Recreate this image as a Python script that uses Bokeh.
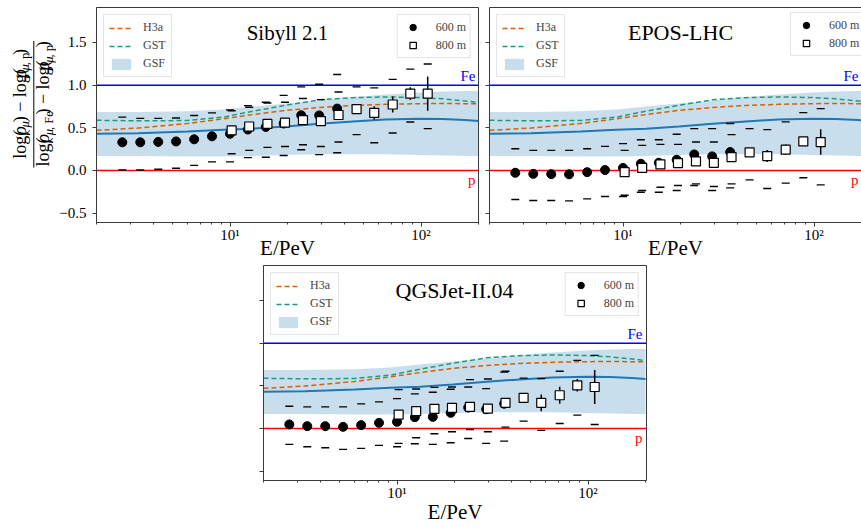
from math import log10, pi
from bokeh.plotting import figure
from bokeh.models import (Range1d, FixedTicker, CustomJSTickFormatter, Label, Legend,
                          LegendItem, LinearAxis, Span, Spacer)
from bokeh.layouts import row, column
from bokeh.embed import file_html
from bokeh.resources import INLINE
from bokeh.core.properties import value

# ---------------- data ----------------
# energy bins (PeV)
E_600 = [2.73, 3.39, 4.21, 5.22, 6.49, 8.05, 10.0, 12.4, 15.4, 19.1, 23.6, 29.3, 36.4]
E_800 = [10.2, 12.6, 15.7, 19.4, 24.1, 29.9, 37.0, 46.0, 56.9, 71.1, 87.9, 108.4]

# model expectations (common to all panels)
E_MODEL = [2.0, 3.3, 6.0, 9.2, 13.2, 19.6, 29.4, 44.0, 65.0, 98.0, 130.0, 170.0, 200.0]
H3A = [0.47, 0.497, 0.55, 0.605, 0.655, 0.705, 0.737, 0.762, 0.775, 0.783, 0.784, 0.783, 0.78]
GST = [0.588, 0.582, 0.585, 0.625, 0.694, 0.765, 0.828, 0.853, 0.862, 0.855, 0.84, 0.815, 0.795]
GSF = [0.43, 0.437, 0.458, 0.476, 0.49, 0.515, 0.548, 0.575, 0.598, 0.607, 0.603, 0.59, 0.58]
GSF_HI = [0.685, 0.685, 0.695, 0.715, 0.75, 0.785, 0.82, 0.86, 0.89, 0.915, 0.925, 0.93, 0.93]
GSF_LO = [0.17, 0.168, 0.165, 0.165, 0.17, 0.18, 0.19, 0.19, 0.19, 0.18, 0.175, 0.17, 0.168]

ERR_600 = [0.015, 0.015, 0.015, 0.015, 0.015, 0.015, 0.015, 0.02, 0.02, 0.02, 0.025, 0.025, 0.03]

# Sibyll 2.1
SIB_600 = [0.33, 0.33, 0.335, 0.34, 0.365, 0.40, 0.43, 0.48, 0.51, 0.55, 0.647, 0.645, 0.725]
SIB_600_UP = [0.625, 0.61, 0.61, 0.615, 0.645, 0.675, 0.71, 0.76, 0.80, 0.88, 0.98, 1.01, 1.125]
SIB_600_LO = [0.005, 0.005, 0.015, 0.025, 0.06, 0.10, 0.10, 0.15, 0.155, 0.175, 0.243, 0.185, 0.208]
SIB_800 = [0.47, 0.515, 0.545, 0.56, 0.59, 0.578, 0.65, 0.718, 0.675, 0.773, 0.90, 0.90]
SIB_800_ERR = [0.02, 0.02, 0.02, 0.02, 0.02, 0.025, 0.03, 0.04, 0.078, 0.095, 0.075, 0.2]
SIB_800_UP = [0.70, 0.74, 0.79, 0.80, 0.843, 0.83, 0.92, 0.98, 0.968, 1.067, 1.188, 1.247]
SIB_800_LO = [0.195, 0.235, 0.27, 0.28, 0.302, 0.28, 0.333, 0.42, 0.325, 0.439, 0.568, 0.49]

# EPOS-LHC
EPOS_600 = [-0.027, -0.04, -0.043, -0.045, -0.02, 0.005, 0.03, 0.078, 0.09, 0.125, 0.188, 0.165, 0.216]
EPOS_600_UP = [0.255, 0.235, 0.235, 0.235, 0.255, 0.282, 0.314, 0.36, 0.36, 0.424, 0.49, 0.49, 0.55]
EPOS_600_LO = [-0.34, -0.353, -0.353, -0.356, -0.333, -0.306, -0.306, -0.255, -0.255, -0.235, -0.176, -0.235, -0.204]
EPOS_800 = [-0.02, 0.03, 0.071, 0.086, 0.106, 0.09, 0.157, 0.212, 0.169, 0.243, 0.34, 0.333]
EPOS_800_ERR = [0.02, 0.02, 0.02, 0.02, 0.02, 0.025, 0.03, 0.035, 0.07, 0.06, 0.045, 0.15]
EPOS_800_UP = [0.235, 0.294, 0.306, 0.306, 0.333, 0.333, 0.42, 0.49, 0.478, 0.57, 0.678, 0.725]
EPOS_800_LO = [-0.29, -0.235, -0.196, -0.176, -0.157, -0.188, -0.157, -0.11, -0.212, -0.149, -0.086, -0.169]

# QGSJet-II.04
QGS_600 = [0.047, 0.027, 0.027, 0.019, 0.039, 0.066, 0.078, 0.132, 0.136, 0.183, 0.245, 0.225, 0.29]
QGS_600_UP = [0.26, 0.253, 0.253, 0.253, 0.288, 0.311, 0.35, 0.405, 0.424, 0.46, 0.486, 0.467, 0.66]
QGS_600_LO = [-0.187, -0.214, -0.226, -0.245, -0.233, -0.198, -0.214, -0.179, -0.187, -0.167, -0.117, -0.175, -0.148]
QGS_800 = [0.163, 0.202, 0.23, 0.241, 0.253, 0.233, 0.30, 0.358, 0.30, 0.389, 0.506, 0.486]
QGS_800_ERR = [0.02, 0.02, 0.02, 0.02, 0.02, 0.025, 0.03, 0.035, 0.097, 0.1, 0.074, 0.2]
QGS_800_UP = [0.455, 0.463, 0.482, 0.486, 0.572, 0.58, 0.67, 0.59, 0.584, 0.67, 0.798, 0.856]
QGS_800_LO = [-0.175, -0.109, -0.062, -0.039, -0.012, -0.039, 0.016, 0.086, -0.023, 0.058, 0.156, 0.047]

X_TICKS = [10, 100]
X_TICK_LABELS = ["10\u00b9", "10\u00b2"]
X_MINOR = [2, 3, 4, 5, 6, 7, 8, 9, 20, 30, 40, 50, 60, 70, 80, 90, 200]
Y_TICKS = [-0.5, 0.0, 0.5, 1.0, 1.5]
Y_TICK_LABELS = ["\u22120.5", "0.0", "0.5", "1.0", "1.5"]
X_TITLE = "E/PeV"

# ---------------- style / layout ----------------
FONT = "Liberation Serif"
X_START, X_END = 2.0, 200.0
Y_START, Y_END = -0.61, 1.91
FW = 382
FH = 215
DEC_PX = FW / (log10(X_END) - log10(X_START))
SPINE = "#3a3a3a"
C_GSF = "#1f77b4"
C_H3A = "#d95f02"
C_GST = "#1b9e77"
MID = 0.34  # em-box middle above the baseline, in em


def fmt(tvals, tlabels):
    return CustomJSTickFormatter(
        args=dict(tv=tvals, tl=tlabels),
        code="const i = tv.indexOf(tick); return i >= 0 ? tl[i] : '';")


def panel(title, title_size, d600, up600, lo600, d800, err800, up800, lo800,
          width, height, mbl, mbr, mbt, mbb, frame_w, ylabels, full_spine, leg2_loc,
          xlab_standoff):
    x_end = X_START * 10 ** (frame_w / DEC_PX)
    p = figure(width=width, height=height, x_axis_type="log",
               x_range=Range1d(X_START, x_end), y_range=Range1d(Y_START, Y_END),
               output_backend="svg", toolbar_location=None,
               min_border_left=mbl, min_border_right=mbr,
               min_border_top=mbt, min_border_bottom=mbb)
    p.xgrid.visible = False
    p.ygrid.visible = False
    p.background_fill_color = "white"
    p.border_fill_color = "white"
    p.outline_line_color = SPINE if full_spine else None
    p.outline_line_width = 1

    # axes
    p.xaxis.ticker = FixedTicker(ticks=X_TICKS, minor_ticks=X_MINOR)
    p.xaxis.formatter = fmt(X_TICKS, X_TICK_LABELS)
    p.yaxis.ticker = FixedTicker(ticks=Y_TICKS)
    p.yaxis.formatter = fmt(Y_TICKS, Y_TICK_LABELS if ylabels else ["", "", "", "", ""])
    for ax in (p.xaxis[0], p.yaxis[0]):
        ax.axis_line_color = SPINE
        ax.major_tick_line_color = SPINE
        ax.minor_tick_line_color = SPINE
        ax.major_tick_in = 0
        ax.minor_tick_in = 0
        ax.major_tick_out = 4
        ax.minor_tick_out = 2
        ax.major_label_text_font = FONT
        ax.major_label_text_font_size = "15px"
        ax.major_label_text_color = "black"
    p.xaxis.major_label_standoff = 0
    p.xaxis.axis_label = X_TITLE
    p.xaxis.axis_label_text_font = FONT
    p.xaxis.axis_label_text_font_size = "21px"
    p.xaxis.axis_label_text_font_style = "normal"
    p.xaxis.axis_label_text_color = "black"
    p.xaxis.axis_label_standoff = xlab_standoff
    p.yaxis.minor_tick_line_color = None
    p.yaxis.major_label_standoff = 6 if ylabels else 0
    if not full_spine:
        top = LinearAxis(ticker=FixedTicker(ticks=[]), axis_line_color=SPINE,
                         major_tick_line_color=None, minor_tick_line_color=None,
                         major_label_text_font_size="0px")
        p.add_layout(top, "above")

    # reference lines
    p.add_layout(Span(location=1.0, dimension="width", line_color="#0000ff",
                      line_width=1.5, level="underlay"))
    p.add_layout(Span(location=0.0, dimension="width", line_color="#ff0000",
                      line_width=1.5, level="underlay"))

    # models
    band = p.varea(x=E_MODEL, y1=GSF_LO, y2=GSF_HI, fill_color=C_GSF, fill_alpha=0.24)
    p.line(E_MODEL, GSF, line_color=C_GSF, line_width=2)
    h3a = p.line(E_MODEL, H3A, line_color=C_H3A, line_width=1.5, line_dash="5 3")
    gst = p.line(E_MODEL, GST, line_color=C_GST, line_width=1.5, line_dash="5 3")

    # systematic limits
    for xs, ys in ((E_600, up600), (E_600, lo600), (E_800, up800), (E_800, lo800)):
        p.scatter(xs, ys, marker="dash", size=8, line_color="black", line_width=1.4)

    # statistical error bars + points
    p.segment(x0=E_600, x1=E_600,
              y0=[v - e for v, e in zip(d600, ERR_600)],
              y1=[v + e for v, e in zip(d600, ERR_600)],
              line_color="black", line_width=1.5)
    circ = p.scatter(E_600, d600, marker="circle", size=9, fill_color="black",
                     line_color="black")
    p.segment(x0=E_800, x1=E_800,
              y0=[v - e for v, e in zip(d800, err800)],
              y1=[v + e for v, e in zip(d800, err800)],
              line_color="black", line_width=1.5)
    sq = p.scatter(E_800, d800, marker="square", size=9, fill_color="white",
                   line_color="black", line_width=1.2)

    # legends
    common = dict(label_text_font=FONT, label_text_font_size="12px",
                  border_line_color="#cccccc", border_line_width=1,
                  background_fill_alpha=0.85, margin=7)
    leg1 = Legend(items=[LegendItem(label="H3a", renderers=[h3a]),
                         LegendItem(label="GST", renderers=[gst]),
                         LegendItem(label="GSF", renderers=[band])],
                  location="top_left", glyph_width=24, glyph_height=14, padding=5,
                  spacing=3, label_standoff=10, **common)
    leg2 = Legend(items=[LegendItem(label="600 m", renderers=[circ]),
                         LegendItem(label="800 m", renderers=[sq])],
                  location=leg2_loc, glyph_width=22, glyph_height=16, padding=4,
                  spacing=2, label_standoff=12, **common)
    p.add_layout(leg1)
    p.add_layout(leg2)

    # texts inside the frame
    p.add_layout(Label(x=FW / 2, y=FH - 25, x_units="screen", y_units="screen",
                       text=title, text_align="center", text_baseline="middle",
                       text_font=FONT, text_font_size=title_size, text_color="black"))
    xr = min(FW, frame_w) - 3
    p.add_layout(Label(x=xr, y=1.0, x_units="screen", y_units="data", y_offset=1,
                       text="Fe", text_align="right", text_baseline="bottom",
                       text_font=FONT, text_font_size="15px", text_color="#0000ff"))
    p.add_layout(Label(x=xr, y=0.0, x_units="screen", y_units="data", y_offset=-2,
                       text="p", text_align="right", text_baseline="top",
                       text_font=FONT, text_font_size="15px", text_color="#ff0000"))
    return p


TOP_H = 262
BOT_H = 527 - TOP_H
p1 = panel("Sibyll 2.1", "21px", SIB_600, SIB_600_UP, SIB_600_LO, SIB_800, SIB_800_ERR,
           SIB_800_UP, SIB_800_LO, width=424, height=TOP_H, mbl=40, mbr=2, mbt=7, mbb=40,
           frame_w=382, ylabels=True, full_spine=True, leg2_loc="top_right",
           xlab_standoff=-10)
p2 = panel("EPOS-LHC", "22px", EPOS_600, EPOS_600_UP, EPOS_600_LO, EPOS_800, EPOS_800_ERR,
           EPOS_800_UP, EPOS_800_LO, width=381, height=TOP_H, mbl=9, mbr=0, mbt=7, mbb=40,
           frame_w=372, ylabels=False, full_spine=False, leg2_loc=(FW - 7 - 74, FH - 7 - 42),
           xlab_standoff=-10)
p3 = panel("QGSJet-II.04", "22px", QGS_600, QGS_600_UP, QGS_600_LO, QGS_800, QGS_800_ERR,
           QGS_800_UP, QGS_800_LO, width=408, height=BOT_H, mbl=20, mbr=5, mbt=3,
           mbb=BOT_H - 3 - FH, frame_w=383, ylabels=False, full_spine=True,
           leg2_loc="top_right", xlab_standoff=-4)


def blank(w, h):
    f = figure(width=w, height=h, x_range=Range1d(0, w), y_range=Range1d(0, h),
               output_backend="svg", toolbar_location=None, min_border=0,
               x_axis_location=None, y_axis_location=None)
    f.outline_line_color = None
    f.xgrid.visible = False
    f.ygrid.visible = False
    f.background_fill_color = "white"
    f.border_fill_color = "white"
    return f


# y-axis label (fraction) in its own small canvas
LW = 56
lab = blank(LW, TOP_H)

CW = {"l": 0.278, "o": 0.5, "g": 0.5, "(": 0.333, ")": 0.333, "\u03c1": 0.5,
      "\u03bc": 0.5, ",": 0.25, " ": 0.25, "p": 0.5, "F": 0.556, "e": 0.444, "\u2212": 0.564}
FS, SFS = 18.0, 12.6
NUM = [("log(", 0, 0), ("\u03c1", 0, 1), ("\u03bc", 1, 1), (") \u2212 log(", 0, 0),
       ("\u03c1", 0, 1), ("\u03bc", 1, 1), (", p", 1, 0), (")", 0, 0)]
DEN = [("log(", 0, 0), ("\u03c1", 0, 1), ("\u03bc", 1, 1), (", Fe", 1, 0),
       (") \u2212 log(", 0, 0), ("\u03c1", 0, 1), ("\u03bc", 1, 1), (", p", 1, 0), (")", 0, 0)]


def piece_w(t, sub):
    return sum(CW.get(c, 0.5) for c in t) * (SFS if sub else FS)


def draw_line(pieces, xb, yc):
    # xb: screen x of the baseline (rotated text reads bottom to top)
    total = sum(piece_w(t, s) for t, s, _ in pieces)
    y = yc - total / 2
    for t, s, it in pieces:
        fs = SFS if s else FS
        xbase = xb + (3.5 if s else 0)
        lab.text(x=[xbase - MID * fs], y=[y], text=[t], angle=pi / 2,
                 text_font=value(FONT), text_font_size=value(f"{fs}px"),
                 text_font_style="italic" if it else "normal",
                 text_align="left", text_baseline="middle", text_color="black")
        y += piece_w(t, s)
    return total


YC = TOP_H - 118
wn = draw_line(NUM, 25.5, YC)
wd = draw_line(DEN, 49, YC)
L = max(wn, wd) + 3
lab.segment(x0=[33.3], x1=[33.3], y0=[YC - L / 2], y1=[YC + L / 2],
            line_color="black", line_width=1)

layout = column(row(lab, p1, p2),
                row(Spacer(width=243, height=BOT_H), p3))

open("out.html", "w").write(file_html(layout, INLINE))
